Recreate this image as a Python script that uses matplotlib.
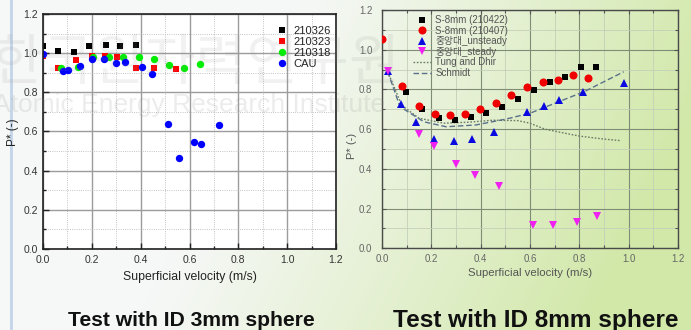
import numpy as np
import matplotlib
matplotlib.use('Agg')
import matplotlib.pyplot as plt
from matplotlib.ticker import MultipleLocator, FormatStrFormatter

plt.rcParams['font.family'] = ['Liberation Sans', 'Noto Sans CJK KR', 'DejaVu Sans']

# ---------------- Left chart (ID 3mm sphere) ----------------
x_210326 = [0.0, 0.06, 0.125, 0.19, 0.256, 0.314, 0.38]
y_210326 = [1.038, 1.01, 1.006, 1.036, 1.04, 1.035, 1.04]
x_210323 = [0.0, 0.06, 0.136, 0.2, 0.254, 0.304, 0.38, 0.455, 0.545]
y_210323 = [0.987, 0.926, 0.965, 0.986, 0.986, 0.982, 0.924, 0.924, 0.921]
x_210318 = [0.074, 0.143, 0.204, 0.27, 0.329, 0.393, 0.453, 0.515, 0.579, 0.642]
y_210318 = [0.923, 0.931, 0.982, 0.982, 0.982, 0.98, 0.969, 0.94, 0.923, 0.946]
x_cau = [0.0, 0.083, 0.101, 0.152, 0.201, 0.251, 0.301, 0.336, 0.404, 0.447,
         0.51, 0.556, 0.618, 0.649, 0.72]
y_cau = [0.996, 0.909, 0.914, 0.935, 0.972, 0.970, 0.951, 0.955, 0.93, 0.892,
         0.637, 0.465, 0.546, 0.536, 0.635]

# ---------------- Right chart (ID 8mm sphere) ----------------
x_s8_0422 = [0.098, 0.164, 0.233, 0.296, 0.361, 0.423, 0.488, 0.551, 0.617, 0.682, 0.743, 0.805, 0.869]
y_s8_0422 = [0.785, 0.70, 0.656, 0.644, 0.663, 0.683, 0.713, 0.753, 0.797, 0.839, 0.862, 0.913, 0.913]
x_s8_0407 = [0.0, 0.08, 0.148, 0.213, 0.275, 0.337, 0.399, 0.461, 0.523, 0.588, 0.653, 0.712, 0.775, 0.834]
y_s8_0407 = [1.052, 0.817, 0.716, 0.675, 0.67, 0.678, 0.70, 0.733, 0.77, 0.81, 0.836, 0.847, 0.873, 0.859]
x_unsteady = [0.023, 0.077, 0.138, 0.209, 0.291, 0.366, 0.455, 0.588, 0.656, 0.718, 0.814, 0.98]
y_unsteady = [0.891, 0.725, 0.637, 0.549, 0.539, 0.549, 0.584, 0.686, 0.716, 0.748, 0.789, 0.831]
x_steady = [0.023, 0.148, 0.209, 0.299, 0.377, 0.475, 0.611, 0.694, 0.792, 0.87]
y_steady = [0.891, 0.574, 0.515, 0.426, 0.368, 0.314, 0.116, 0.116, 0.132, 0.161]
x_tung = [0.023, 0.08, 0.15, 0.25, 0.35, 0.45, 0.55, 0.6, 0.66, 0.72, 0.8, 0.9, 0.97]
y_tung = [0.89, 0.72, 0.655, 0.63, 0.635, 0.645, 0.643, 0.63, 0.60, 0.585, 0.565, 0.55, 0.542]
x_schmidt = [0.023, 0.073, 0.17, 0.26, 0.38, 0.5, 0.6, 0.7, 0.82, 0.98]
y_schmidt = [0.89, 0.713, 0.637, 0.612, 0.621, 0.65, 0.68, 0.73, 0.789, 0.889]

left_labels = ['210326', '210323', '210318', 'CAU']
right_labels = ['S-8mm (210422)', 'S-8mm (210407)', '중앙대_unsteady', '중앙대_steady',
                'Tung and Dhir', 'Schmidt']

W, H = 691, 330
fig = plt.figure(figsize=(W / 100, H / 100), dpi=100)

# background gradient (slide)
bg = fig.add_axes([0, 0, 1, 1], zorder=-10)
yy, xx = np.mgrid[0:H, 0:W]
t = np.clip((xx / W - 0.42) * 1.5 + (yy / H) * 0.35, 0, 1) ** 1.1
c0 = np.array([0.965, 0.972, 0.970])
c1 = np.array([0.82, 0.91, 0.66])
img = c0 + (c1 - c0) * t[..., None]
bg.imshow(img, extent=[0, W, H, 0], aspect='auto')
bg.set_xlim(0, W)
bg.set_ylim(H, 0)
bg.plot([11, 11], [0, H], color='#c3d5e9', lw=2)
bg.axis('off')


def px(x0, y0, x1, y1):
    return [x0 / W, 1 - y1 / H, (x1 - x0) / W, (y1 - y0) / H]


# ---------- left axes ----------
ax1 = fig.add_axes(px(43, 14, 336, 249))
ax1.set_facecolor('white')
ax1.plot(x_210326, y_210326, ls='none', marker='s', ms=4.6, mew=0, color='#000000', label=left_labels[0])
ax1.plot(x_210323, y_210323, ls='none', marker='s', ms=4.6, mew=0, color='#ff0000', label=left_labels[1])
ax1.plot(x_210318, y_210318, ls='none', marker='o', ms=5.3, mew=0, color='#00ee00', label=left_labels[2])
ax1.plot(x_cau, y_cau, ls='none', marker='o', ms=5.3, mew=0, color='#0000ff', label=left_labels[3])
ax1.set_xlim(0, 1.2)
ax1.set_ylim(0, 1.2)
for a in (ax1.xaxis, ax1.yaxis):
    a.set_major_locator(MultipleLocator(0.2))
    a.set_minor_locator(MultipleLocator(0.1))
    a.set_major_formatter(FormatStrFormatter('%.1f'))
ax1.set_axisbelow(True)
ax1.grid(which='major', color='#9c9c9c', lw=1.0, ls='-')
ax1.grid(which='minor', color='#b0b0b0', lw=0.6, ls=':')
ax1.tick_params(which='both', direction='in', top=False, right=False, color='#222222',
                labelsize=7.5, labelcolor='#333333', width=1)
ax1.tick_params(which='major', length=4)
ax1.tick_params(which='minor', length=2.5)
ax1.tick_params(axis='y', pad=3.5)
ax1.tick_params(axis='x', pad=4)
for s in ax1.spines.values():
    s.set_color('#222222')
    s.set_linewidth(1.2)
ax1.legend(loc='upper left', bbox_to_anchor=(276 / W, 1 - 26 / H), bbox_transform=fig.transFigure,
           frameon=False, fontsize=8, handlelength=1.0, handletextpad=0.6, labelspacing=0.08,
           borderpad=0, borderaxespad=0, labelcolor='#222222')

# ---------- right axes ----------
ax2 = fig.add_axes(px(382, 10, 678, 248.3))
ax2.patch.set_alpha(0)
ax2.plot(x_tung, y_tung, ls=(0, (1.2, 1.2)), lw=1.0, color='#6c7d66', zorder=2)
ax2.plot(x_schmidt, y_schmidt, ls=(0, (4, 2)), lw=1.0, color='#58708a', zorder=2)
h1, = ax2.plot(x_s8_0422, y_s8_0422, ls='none', marker='s', ms=5.0, mew=0, color='#000000', zorder=3)
h2, = ax2.plot(x_s8_0407, y_s8_0407, ls='none', marker='o', ms=5.8, mew=0, color='#f00000', zorder=3)
h3, = ax2.plot(x_unsteady, y_unsteady, ls='none', marker='^', ms=6.0, mew=0, color='#0a0ae0', zorder=3)
h4, = ax2.plot(x_steady, y_steady, ls='none', marker='v', ms=6.0, mew=0, color='#f020f0', zorder=3)
h5, = ax2.plot([], [], ls=(0, (1.2, 1.2)), lw=1.0, color='#6c7d66')
h6, = ax2.plot([], [], ls=(0, (4, 2)), lw=1.0, color='#58708a')
ax2.set_xlim(0, 1.2)
ax2.set_ylim(0, 1.2)
for a in (ax2.xaxis, ax2.yaxis):
    a.set_major_locator(MultipleLocator(0.2))
    a.set_minor_locator(MultipleLocator(0.1))
    a.set_major_formatter(FormatStrFormatter('%.1f'))
ax2.set_axisbelow(True)
ax2.grid(which='major', color='#7f8c76', lw=0.8, ls='-')
ax2.grid(which='minor', color='#c4cfb8', lw=0.6, ls='-')
ax2.tick_params(which='both', direction='in', top=True, right=True, color='#555555',
                labelsize=7, labelcolor='#666666', width=0.8)
ax2.tick_params(which='major', length=3)
ax2.tick_params(which='minor', length=2)
ax2.tick_params(axis='y', pad=7)
ax2.tick_params(axis='x', pad=4)
for s in ax2.spines.values():
    s.set_color('#4a4a4a')
    s.set_linewidth(1.0)
ax2.legend([h1, h2, h3, h4, h5, h6], right_labels, loc='upper left',
           bbox_to_anchor=(413 / W, 1 - 15 / H), bbox_transform=fig.transFigure,
           frameon=False, fontsize=7, handlelength=1.8, handletextpad=0.5, labelspacing=0.06,
           borderpad=0, borderaxespad=0, labelcolor='#555555')

# ---------- axis labels ----------
fig.text(190 / W, 1 - 277 / H, 'Superficial velocity (m/s)', ha='center', va='center',
         fontsize=8.8, color='#222222')
fig.text(530 / W, 1 - 273 / H, 'Superficial velocity (m/s)', ha='center', va='center',
         fontsize=8.2, color='#555555')
fig.text(13 / W, 1 - 132 / H, 'P* (-)', ha='center', va='center', rotation=90,
         fontsize=8.5, color='#222222')
fig.text(352 / W, 1 - 146 / H, 'P* (-)', ha='center', va='center', rotation=90,
         fontsize=8, color='#555555')

# ---------- captions ----------
fig.text(191 / W, 1 - 326 / H, 'Test with ID 3mm sphere', ha='center', va='baseline',
         fontsize=15.2, fontweight='bold', color='#111111')
fig.text(536 / W, 1 - 327 / H, 'Test with ID 8mm sphere', ha='center', va='baseline',
         fontsize=17.6, fontweight='bold', color='#111111')

# ---------- watermark (faint) ----------
fig.text(385 / W, 1 - 112 / H, 'Atomic Energy Research Institute', ha='right', va='baseline',
         fontsize=19, color=(0.55, 0.55, 0.55, 0.16), zorder=20)
fig.text(400 / W, 1 - 80 / H, '한국원자력연구원', ha='right', va='baseline',
         fontsize=40, color=(0.55, 0.55, 0.55, 0.12), zorder=20, family=['Noto Sans CJK KR'])

fig.savefig('out.png', dpi=100)
